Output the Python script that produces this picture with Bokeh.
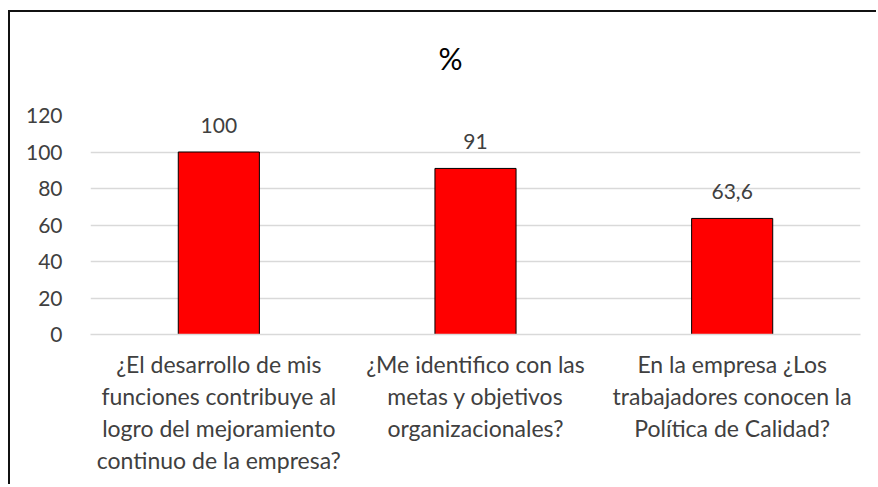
from bokeh.plotting import figure
from bokeh.models import Range1d, FactorRange, ColumnDataSource, Title
from bokeh.core.properties import value
from bokeh.embed import file_html
from bokeh.resources import INLINE

categories = [
    "¿El desarrollo de mis\nfunciones contribuye al\nlogro del mejoramiento\ncontinuo de la empresa?",
    "¿Me identifico con las\nmetas y objetivos\norganizacionales?",
    "En la empresa ¿Los\ntrabajadores conocen la\nPolítica de Calidad?",
]
values = [100, 91, 63.6]
value_labels = ["100", "91", "63,6"]
y_ticks = [0, 20, 40, 60, 80, 100, 120]
title_text = "%"

FONT = "Lato"
TXT = "#404040"

src = ColumnDataSource(dict(cat=categories, val=values, lab=value_labels))

p = figure(
    width=868, height=474,
    x_range=FactorRange(*categories, range_padding=0),
    y_range=Range1d(0, 120),
    output_backend="svg", toolbar_location=None,
    min_border_left=80, min_border_right=18,
    min_border_top=103, min_border_bottom=152,
)
p.title = None
p.styles = {"border-top": "2px solid #111", "border-left": "2px solid #111",
            "margin-top": "10px", "margin-left": "8px"}
p.outline_line_color = None
p.background_fill_color = "white"
p.border_fill_color = "white"

spacer = Title(text=" ", text_font_size="10px", standoff=27)
main_title = Title(text=title_text, align="left", offset=348, text_font=FONT,
                   text_font_size="30px", text_font_style="normal",
                   text_color="#000000", standoff=0)
p.add_layout(spacer, "above")
p.add_layout(main_title, "above")

p.vbar(x="cat", top="val", width=0.316, source=src,
       fill_color="#ff0000", line_color="#000000", line_width=1)

p.text(x="cat", y="val", text="lab", source=src,
       text_align="center", text_baseline="alphabetic", y_offset=-27,
       text_font=value(FONT), text_font_size="21px", text_color=TXT)

p.xgrid.grid_line_color = None
p.ygrid.grid_line_color = "#d9d9d9"
p.ygrid.grid_line_width = 1.5
p.yaxis.ticker = y_ticks
p.yaxis.axis_line_color = None
p.yaxis.major_tick_line_color = None
p.yaxis.minor_tick_line_color = None
p.yaxis.major_label_text_font = FONT
p.yaxis.major_label_text_font_size = "21px"
p.yaxis.major_label_text_color = TXT
p.yaxis.major_label_standoff = 22

p.xaxis.axis_line_color = "#d9d9d9"
p.xaxis.axis_line_width = 1.5
p.xaxis.major_tick_line_color = None
p.xaxis.minor_tick_line_color = None
p.xaxis.major_label_text_font = FONT
p.xaxis.major_label_text_font_size = "23px"
p.xaxis.major_label_text_color = TXT
p.xaxis.major_label_standoff = 9
p.xaxis.major_label_text_line_height = 1.15

open("out.html", "w").write(file_html(p, INLINE))
